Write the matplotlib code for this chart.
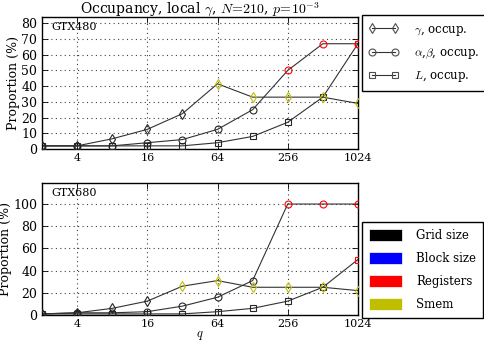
import matplotlib
matplotlib.use("Agg")
import matplotlib.pyplot as plt
from matplotlib.lines import Line2D
from matplotlib.patches import Patch

plt.rcParams["font.family"] = "DejaVu Serif"
plt.rcParams["mathtext.fontset"] = "cm"

q = [2, 4, 8, 16, 32, 64, 128, 256, 512, 1024]

# GTX480
g480 = [2, 2, 6.5, 12.5, 22.5, 41.5, 33, 33, 33, 29]
ab480 = [2, 2, 2, 4, 6, 12.5, 25, 50, 67, 67]
L480 = [2, 2, 2, 2, 2, 4, 8, 17, 33, 67]
g480_lim = ["k", "k", "k", "k", "k", "y", "y", "y", "y", "y"]
ab480_lim = ["k", "k", "k", "k", "k", "k", "k", "r", "r", "r"]
L480_lim = ["k", "k", "k", "k", "k", "k", "k", "k", "k", "r"]

# GTX680
g680 = [1, 2, 6, 12.5, 26, 31, 25, 25, 25, 22]
ab680 = [1, 2, 2, 3, 8, 16, 31, 100, 100, 100]
L680 = [1, 1, 1, 1, 1, 3, 6, 12.5, 25, 50]
g680_lim = ["k", "k", "k", "k", "y", "y", "y", "y", "y", "y"]
ab680_lim = ["k", "k", "k", "k", "k", "k", "k", "r", "r", "r"]
L680_lim = ["k", "k", "k", "k", "k", "k", "k", "k", "k", "r"]

xticks = [4, 16, 64, 256, 1024]
lim_colors = {"k": "0.15", "b": "blue", "r": "red", "y": (0.75, 0.75, 0)}
lim_names = ["Grid size", "Block size", "Registers", "Smem"]
lim_patch = ["black", "blue", "red", (0.75, 0.75, 0)]

fig = plt.figure(figsize=(4.85, 3.43), dpi=100)
ax1 = fig.add_axes([0.0866, 0.5656, 0.6514, 0.3848])
ax2 = fig.add_axes([0.0866, 0.0816, 0.6514, 0.385])


def draw(ax, series, ylim, yticks, name):
    for vals, lims, mk in series:
        ax.plot(q, vals, "-", color="0.2", lw=0.8, zorder=2)
    for vals, lims, mk in series:
        for x, v, c in zip(q, vals, lims):
            ax.plot(x, v, mk, ms=5, mfc="none", mec=lim_colors[c], mew=0.8, zorder=3)
    ax.set_xscale("log", base=2)
    ax.set_xlim(2, 1024)
    ax.set_ylim(*ylim)
    ax.set_xticks(xticks)
    ax.set_xticklabels([str(t) for t in xticks], fontsize=8)
    ax.minorticks_off()
    ax.set_yticks(yticks)
    ax.tick_params(axis="y", labelsize=9)
    ax.tick_params(axis="x", pad=3)
    ax.tick_params(direction="in", top=True, right=True, length=4, width=0.6)
    ax.grid(True, color="0.25", linestyle=(0, (1, 3)), lw=0.8)
    ax.set_ylabel("Proportion (%)", fontsize=9, labelpad=1)
    ax.text(0.03, 0.96, name, transform=ax.transAxes, fontsize=8, va="top", ha="left")
    for s in ax.spines.values():
        s.set_linewidth(1.0)


draw(ax1, [(L480, L480_lim, "s"), (ab480, ab480_lim, "o"), (g480, g480_lim, "d")],
     (0, 84), range(0, 81, 10), "GTX480")
draw(ax2, [(L680, L680_lim, "s"), (ab680, ab680_lim, "o"), (g680, g680_lim, "d")],
     (0, 119), range(0, 101, 20), "GTX680")

ax1.set_title(r"Occupancy, local $\gamma$, $N\!=\!210$, $p\!=\!10^{-3}$", fontsize=10, pad=3)
ax2.set_xlabel(r"$q$", fontsize=9, labelpad=0)

h1 = [Line2D([0], [0], color="0.2", lw=0.8, marker=m, ms=5, mfc="none", mec="0.3", mew=0.8)
      for m in ["d", "o", "s"]]
l1 = [r"$\gamma$, occup.", r"$\alpha$,$\beta$, occup.", r"$L$, occup."]
fig.legend(h1, l1, loc="upper left", bbox_to_anchor=(0.746, 0.955), fontsize=8.5,
           numpoints=2, handlelength=2.5, handletextpad=1.3, labelspacing=0.7,
           fancybox=False, edgecolor="black", framealpha=1, borderpad=0.6, borderaxespad=0)

h2 = [Patch(facecolor=c, edgecolor="white", lw=0.5) for c in lim_patch]
fig.legend(h2, lim_names, loc="upper left", bbox_to_anchor=(0.746, 0.353), fontsize=8.5,
           handlelength=2.8, handleheight=1.2, handletextpad=1.2, labelspacing=0.85,
           fancybox=False, edgecolor="black", framealpha=1, borderpad=0.6, borderaxespad=0)

fig.savefig("out.png", dpi=100)
